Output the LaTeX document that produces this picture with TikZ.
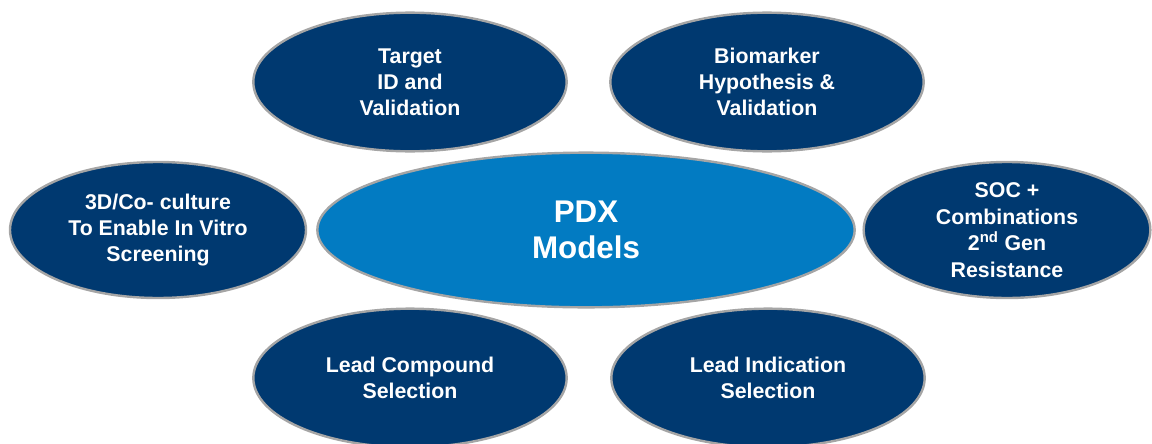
\documentclass[tikz,border=0pt]{standalone}
\usepackage{fontspec}
\setmainfont{Liberation Sans}
\usetikzlibrary{shapes.geometric}
\definecolor{navy}{RGB}{0,57,112}
\definecolor{pdxblue}{RGB}{2,123,194}
\definecolor{rim}{RGB}{165,165,165}

\begin{document}
\begin{tikzpicture}[x=0.75pt, y=-0.75pt,
  sat/.style={ellipse, draw=rim, line width=1.8pt, fill=navy, text=white, align=center, inner sep=0pt,
    font=\fontsize{16}{19.5}\selectfont\bfseries, minimum width=235pt, minimum height=104pt},
  hub/.style={ellipse, draw=rim, line width=1.8pt, fill=pdxblue, text=white, align=center, inner sep=0pt,
    font=\fontsize{23.5}{27}\selectfont\bfseries, minimum width=403pt, minimum height=116pt}]
\useasboundingbox (0,0) rectangle (1152,443);
\node[hub] (pdx) at (586,230) {PDX\\Models};
\node[sat] (target) at (410,82) {Target\\ID and\\Validation};
\node[sat] (biomarker) at (767,82) {Biomarker\\Hypothesis \&\\Validation};
\node[sat, minimum width=222pt, minimum height=102pt] (coculture) at (158,230) {3D/Co- culture\\To Enable In Vitro\\Screening};
\node[sat, minimum width=215pt, minimum height=102pt, font=\fontsize{16}{20}\selectfont\bfseries] (soc) at (1007,230) {SOC +\\Combinations\\2\textsuperscript{nd} Gen\\Resistance};
\node[sat] (compound) at (410,378) {Lead Compound\\Selection};
\node[sat] (indication) at (768,378) {Lead Indication\\Selection};
\end{tikzpicture}
\end{document}
